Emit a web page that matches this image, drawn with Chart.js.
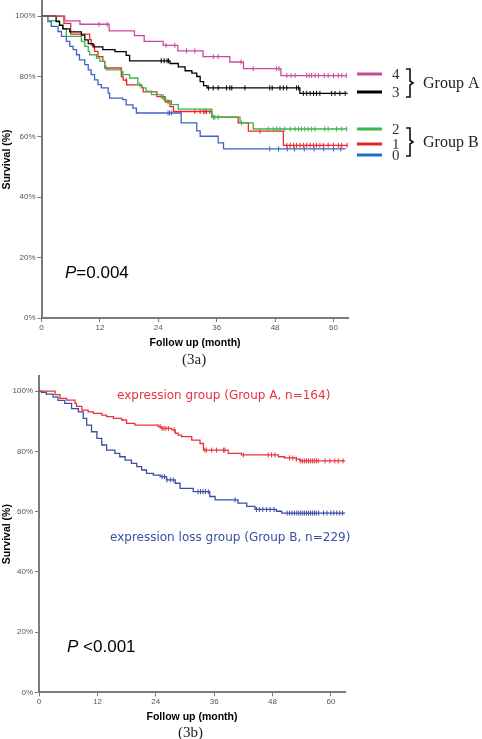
<!DOCTYPE html>
<html>
<head>
<meta charset="utf-8">
<script src="https://cdn.jsdelivr.net/npm/chart.js@4.4.0/dist/chart.umd.min.js"></script>
<style>
  body { margin: 0; background: #fff; width: 482px; height: 739px; position: relative; overflow: hidden; }
  canvas { position: absolute; left: 0; }
  .note { position: absolute; font-family: "Liberation Sans", Arial, sans-serif; line-height: 1; white-space: nowrap; color: #000; }
  .cap { position: absolute; font-family: "Liberation Serif", serif; font-size: 15px; line-height: 1; color: #222; }
  .grp { position: absolute; font-family: "DejaVu Sans", sans-serif; font-size: 12px; line-height: 1; white-space: nowrap; }
</style>
</head>
<body>
<canvas id="kmA" width="482" height="380" style="top:-10px"></canvas>
<canvas id="kmB" width="482" height="379" style="top:360px"></canvas>

<div class="note" style="left:65px;top:264px;font-size:17px"><i>P</i>=0.004</div>
<div class="cap" style="left:182px;top:352px">(3a)</div>

<div class="grp" style="left:117px;top:389px;color:#e8323a">expression group (Group A, n=164)</div>
<div class="grp" style="left:110px;top:531px;color:#3a4ea6">expression loss group (Group B, n=229)</div>
<div class="note" style="left:67px;top:638px;font-size:17px"><i>P</i> &lt;0.001</div>
<div class="cap" style="left:178px;top:725px">(3b)</div>

<script>
// ---- Figure 3a: score groups 0-4 (months, survival %) ----
const g4Time = [0, 4.8, 7.9, 13.9, 19.1, 21.1, 25.0, 28.0, 33.2, 38.7, 41.5, 49.2, 62.8];
const g4Surv = [100, 98.4, 97.3, 95.1, 93.5, 91.6, 90.3, 88.5, 86.6, 84.8, 82.6, 80.3, 80.3];
const g4Cens = [11.8, 13.5, 25.6, 27.4, 29.8, 31.5, 35.3, 36.3, 41.0, 43.5, 48.3, 48.8, 50.4, 51.3, 52.1, 54.5, 55.0, 55.5, 56.2, 56.9, 58.1, 58.9, 60.0, 61.0, 61.7, 62.6];

const g3Time = [0, 3.0, 3.7, 4.4, 5.8, 8.2, 8.9, 9.6, 10.6, 12.6, 15.1, 17.4, 18.1, 26.4, 28.1, 29.5, 30.9, 31.9, 32.6, 33.3, 34.0, 53.1, 62.9];
const g3Surv = [100, 98.2, 96.9, 95.8, 94.8, 93.7, 92.1, 90.9, 89.8, 88.9, 88.2, 87.0, 85.2, 84.3, 83.2, 81.9, 81.1, 80.0, 78.3, 77.0, 76.2, 74.4, 74.4];
const g3Cens = [24.6, 25.2, 25.8, 26.1, 34.3, 35.3, 36.3, 38.0, 38.7, 39.1, 41.8, 46.9, 47.4, 49.0, 49.7, 50.4, 52.4, 52.8, 53.8, 54.5, 55.2, 55.9, 56.5, 57.2, 59.6, 60.3, 61.3, 62.4];

const g2Time = [0, 1.3, 3.7, 4.4, 5.1, 8.2, 8.9, 9.6, 9.9, 11.3, 12.0, 13.0, 13.3, 16.4, 16.7, 18.1, 19.8, 20.5, 21.5, 22.6, 24.6, 25.3, 26.7, 28.1, 35.0, 40.8, 43.5, 62.8];
const g2Surv = [100, 98.5, 97.1, 95.8, 93.3, 91.6, 90.0, 88.3, 87.2, 86.1, 85.0, 83.3, 82.2, 81.7, 80.6, 79.5, 77.3, 76.2, 75.1, 74.0, 72.9, 72.0, 70.7, 69.2, 66.5, 64.6, 62.6, 62.6];
const g2Cens = [16.7, 20.2, 25.0, 25.6, 35.3, 35.6, 36.3, 41.1, 46.6, 47.6, 48.3, 49.0, 50.0, 51.1, 52.1, 52.8, 53.4, 54.1, 54.8, 55.5, 56.2, 58.2, 58.9, 60.6, 61.7, 62.7];

const g1Time = [0, 4.6, 6.0, 9.9, 10.2, 10.9, 11.6, 12.6, 13.0, 16.4, 16.8, 17.5, 20.6, 20.9, 23.7, 25.4, 26.4, 27.1, 35.0, 40.4, 42.5, 49.7, 62.8];
const g1Surv = [100, 97.6, 94.0, 92.2, 90.5, 88.3, 86.6, 85.0, 82.8, 79.9, 78.8, 77.2, 76.4, 74.9, 73.3, 71.6, 70.0, 68.4, 66.5, 64.6, 61.9, 57.2, 57.2];
const g1Cens = [17.4, 25.0, 26.0, 31.5, 32.6, 33.3, 33.6, 33.9, 34.6, 44.9, 50.4, 51.1, 51.8, 52.4, 53.1, 53.8, 54.5, 55.2, 55.9, 56.5, 57.2, 57.9, 58.9, 60.0, 61.0, 61.7, 62.8];

const g0Time = [0, 1.3, 2.0, 3.4, 4.1, 5.1, 5.8, 6.5, 7.2, 7.8, 8.9, 9.6, 10.2, 10.9, 11.6, 12.3, 13.7, 14.0, 16.7, 17.4, 18.8, 19.5, 28.7, 31.9, 32.6, 36.3, 37.4, 62.5];
const g0Surv = [100, 98.2, 96.6, 94.9, 93.3, 91.6, 90.0, 88.9, 87.2, 85.5, 83.9, 82.2, 80.6, 78.9, 77.3, 76.2, 74.5, 72.8, 72.3, 70.6, 69.5, 67.9, 64.6, 62.0, 60.2, 58.0, 56.0, 56.0];
const g0Cens = [26.0, 26.3, 26.7, 46.9, 48.7, 50.5, 52.0, 54.0, 56.0, 58.0, 60.0, 61.5];

const legendLabels = ['4', '3', '2', '1', '0'];
const legendColors = ['#c8499a', '#000000', '#3db54a', '#e8272b', '#1f6fc5'];

// ---- Figure 3b: expression vs expression loss ----
const aTime = [0, 3.3, 4.3, 5.7, 7.4, 7.7, 8.8, 10.1, 11.2, 12.9, 13.9, 15.3, 17.0, 18.0, 19.7, 24.5, 25.2, 27.3, 28.0, 28.6, 29.3, 31.4, 33.1, 33.8, 38.9, 41.6, 49.2, 50.5, 52.9, 53.6, 62.9];
const aSurv = [100, 98.8, 97.6, 97.0, 95.9, 94.9, 93.7, 93.1, 92.6, 92.0, 91.5, 90.9, 90.4, 89.3, 88.7, 88.2, 87.6, 87.1, 86.0, 85.4, 84.9, 83.7, 82.6, 80.4, 79.3, 78.8, 78.2, 77.8, 77.4, 76.8, 76.8];
const aCens = [24.9, 25.3, 25.7, 26.1, 26.6, 27.8, 34.1, 34.4, 35.5, 36.5, 37.9, 38.2, 42.0, 47.1, 47.8, 48.5, 51.5, 52.2, 52.9, 53.8, 54.2, 54.6, 55.0, 55.4, 55.8, 56.2, 56.6, 57.0, 57.4, 58.8, 59.8, 60.8, 61.5, 62.5];

const bTime = [0, 0.5, 1.5, 2.9, 3.9, 5.3, 6.7, 8.1, 9.1, 9.8, 10.8, 11.9, 12.9, 13.9, 15.6, 16.6, 17.7, 19.0, 20.1, 21.1, 22.1, 23.5, 24.9, 26.2, 28.0, 29.0, 31.7, 35.1, 36.2, 40.9, 42.7, 44.4, 48.8, 49.9, 62.9];
const bSurv = [100, 99.6, 99.0, 98.0, 96.9, 95.9, 94.2, 93.1, 90.9, 88.7, 86.5, 84.3, 82.1, 80.4, 79.3, 78.2, 77.1, 76.0, 74.9, 73.8, 72.7, 72.1, 71.6, 70.5, 69.4, 67.7, 66.6, 65.0, 63.9, 62.8, 61.7, 60.7, 60.1, 59.5, 59.5];
const bCens = [25.3, 25.8, 26.3, 27.0, 27.6, 32.7, 33.2, 33.7, 34.2, 34.8, 40.3, 44.7, 45.3, 46.0, 46.8, 47.5, 48.3, 51.0, 51.5, 52.0, 52.5, 53.0, 53.4, 53.8, 54.2, 54.6, 55.0, 55.4, 55.8, 56.2, 56.6, 57.0, 57.5, 58.5, 59.2, 60.0, 60.6, 61.2, 61.8, 62.4];

// survival value of a step curve at time t
function survAt(times, surv, t) {
    let s = surv[0];
    for (let i = 0; i < times.length; i++) {
        if (times[i] <= t) s = surv[i];
    }
    return s;
}

function stepSet(times, surv, color) {
    return {
        type: 'line',
        data: times.map((t, i) => ({ x: t, y: surv[i] })),
        borderColor: color,
        borderWidth: 1.3,
        stepped: true,
        pointRadius: 0,
        fill: false
    };
}

function censSet(times, surv, cens, color) {
    return {
        type: 'scatter',
        data: cens.map(t => ({ x: t, y: survAt(times, surv, t) })),
        pointStyle: 'line',
        rotation: 90,
        pointRadius: 2.5,
        pointBorderColor: color,
        pointBorderWidth: 1,
        showLine: false
    };
}

const tickFont = { family: 'Liberation Sans', size: 8 };
const titleFont = { family: 'Liberation Sans', size: 10.5, weight: 'bold' };

function kmOptions(yWidth, xHeight, xTitlePad, top, right, xMax) {
    return {
        responsive: false,
        animation: false,
        events: [],
        layout: { padding: { left: 0, top: top, right: right, bottom: 0 } },
        plugins: { legend: { display: false }, tooltip: { enabled: false } },
        scales: {
            x: {
                type: 'linear', min: 0, max: xMax,
                afterFit: s => { s.height = xHeight; },
                ticks: { stepSize: 12, includeBounds: false, color: '#555', font: tickFont, padding: 1, maxRotation: 0 },
                grid: { drawOnChartArea: false, tickLength: 4, tickColor: '#777', tickWidth: 1 },
                border: { display: true, color: '#7a7a7a', width: 2 },
                title: { display: true, text: 'Follow up (month)', color: '#000', font: titleFont, padding: { top: 0, bottom: xTitlePad } }
            },
            y: {
                type: 'linear', min: 0, max: 105,
                afterFit: s => { s.width = yWidth; },
                ticks: { stepSize: 20, includeBounds: false, color: '#555', font: tickFont, padding: 2, callback: v => v + '%' },
                grid: { drawOnChartArea: false, tickLength: 4, tickColor: '#777', tickWidth: 1 },
                border: { display: true, color: '#7a7a7a', width: 2 },
                title: { display: true, text: 'Survival (%)', color: '#000', font: titleFont, padding: { top: 1, bottom: 0 } }
            }
        }
    };
}

// right-hand key of figure 3a: coloured bars, group numbers and braces
const groupKey = {
    id: 'groupKey',
    afterDraw(chart) {
        const ctx = chart.ctx;
        const off = 10; // canvas is shifted up by 10px
        const ys = [74, 92, 129, 144, 155];
        ctx.save();
        legendLabels.forEach((lab, i) => {
            ctx.strokeStyle = legendColors[i];
            ctx.lineWidth = 3;
            ctx.beginPath();
            ctx.moveTo(357, ys[i] + off);
            ctx.lineTo(382, ys[i] + off);
            ctx.stroke();
            ctx.fillStyle = '#333';
            ctx.font = '15px "Liberation Serif"';
            ctx.textBaseline = 'middle';
            ctx.fillText(lab, 392, ys[i] + off + 1);
        });
        function brace(x, y1, y2) {
            const m = (y1 + y2) / 2;
            ctx.beginPath();
            ctx.moveTo(x - 4, y1); ctx.lineTo(x, y1); ctx.lineTo(x, m - 2);
            ctx.lineTo(x + 3, m); ctx.lineTo(x, m + 2); ctx.lineTo(x, y2); ctx.lineTo(x - 4, y2);
            ctx.stroke();
        }
        ctx.strokeStyle = '#111';
        ctx.lineWidth = 1.6;
        brace(410, 69 + off, 97 + off);
        brace(410, 128 + off, 156 + off);
        ctx.fillStyle = '#222';
        ctx.font = '16px "Liberation Serif"';
        ctx.fillText('Group A', 423, 84 + off);
        ctx.fillText('Group B', 423, 143 + off);
        ctx.restore();
    }
};

new Chart(document.getElementById('kmA'), {
    type: 'line',
    data: {
        datasets: [
            stepSet(g4Time, g4Surv, legendColors[0]), censSet(g4Time, g4Surv, g4Cens, legendColors[0]),
            stepSet(g3Time, g3Surv, legendColors[1]), censSet(g3Time, g3Surv, g3Cens, legendColors[1]),
            stepSet(g2Time, g2Surv, legendColors[2]), censSet(g2Time, g2Surv, g2Cens, legendColors[2]),
            stepSet(g1Time, g1Surv, legendColors[3]), censSet(g1Time, g1Surv, g1Cens, legendColors[3]),
            stepSet(g0Time, g0Surv, '#4062c0'), censSet(g0Time, g0Surv, g0Cens, '#4062c0')
        ]
    },
    options: kmOptions(41.5, 52, 20.7, 11, 133.4, 63.1),
    plugins: [groupKey]
});

new Chart(document.getElementById('kmB'), {
    type: 'line',
    data: {
        datasets: [
            stepSet(aTime, aSurv, '#e8323a'), censSet(aTime, aSurv, aCens, '#e8323a'),
            stepSet(bTime, bSurv, '#3a4ea6'), censSet(bTime, bSurv, bCens, '#3a4ea6')
        ]
    },
    options: kmOptions(39, 46.7, 15.2, 16, 137, 62.9)
});
</script>
</body>
</html>
